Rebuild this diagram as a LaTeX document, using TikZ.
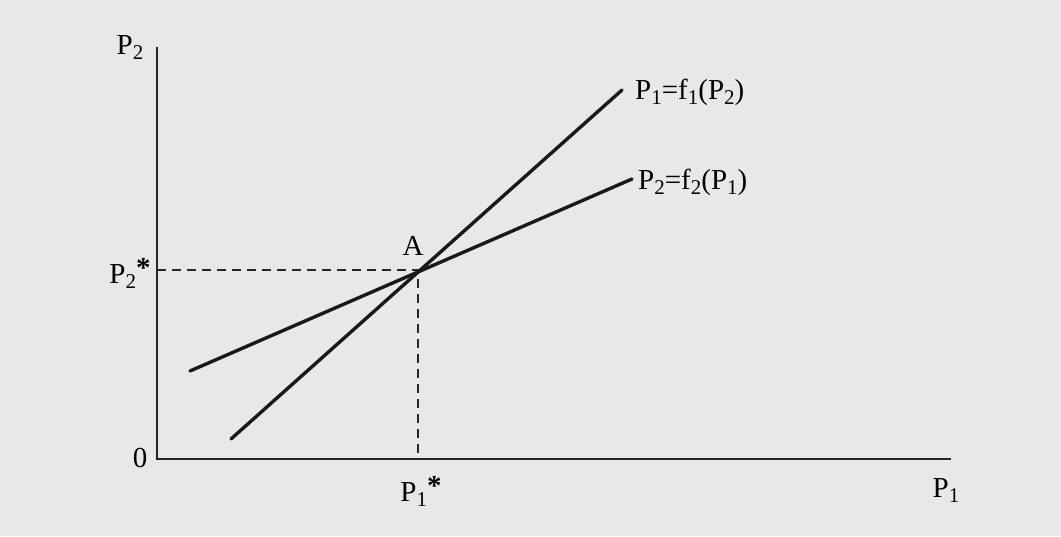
\documentclass[tikz,border=0pt]{standalone}
\usepackage{fontspec}
\setmainfont{Liberation Serif}
\newcommand{\dn}[1]{\raisebox{-5pt}{\fontsize{21}{21}\selectfont #1}}
\newcommand{\st}{\raisebox{6pt}{\textbf{*}}}
\begin{document}
\begin{tikzpicture}[x=1pt,y=-1pt,
  lbl/.style={inner sep=0pt,font=\fontsize{29}{34}\selectfont},
  axis/.style={line width=1.6pt,black!85},
  curve/.style={line width=3.4pt,black!90,line cap=round},
  guide/.style={line width=1.3pt,dash pattern=on 9pt off 6pt,black!85}]
\fill[black!9] (0,0) rectangle (1061,536);
\useasboundingbox (0,0) rectangle (1061,536);
\coordinate (O) at (157,459);
\coordinate (ytop) at (157,47);
\coordinate (xend) at (951,459);
\coordinate (A) at (418,270);
\coordinate (ax) at (157,270);
\coordinate (ay) at (418,459);
\coordinate (s1) at (231,439);
\coordinate (e1) at (622,90);
\coordinate (s2) at (190,371);
\coordinate (e2) at (632,179);
\draw[axis] (ytop) -- (O) -- (xend);
\draw[guide] (ax) -- (A) -- (ay);
\draw[curve] (s1) -- (e1);
\draw[curve] (s2) -- (e2);
\node[lbl] (lP2) at (130,48) {P\dn{2}};
\node[lbl] (l0) at (140,458) {0};
\node[lbl] (lP2s) at (130,273) {P\dn{2}\st};
\node[lbl] (lA) at (413,246) {A};
\node[lbl] (lP1s) at (421,491) {P\dn{1}\st};
\node[lbl] (lP1) at (946,490) {P\dn{1}};
\node[lbl,anchor=west] (lf1) at (635,92) {P\dn{1}=f\dn{1}(P\dn{2})};
\node[lbl,anchor=west] (lf2) at (638,182) {P\dn{2}=f\dn{2}(P\dn{1})};
\end{tikzpicture}
\end{document}
